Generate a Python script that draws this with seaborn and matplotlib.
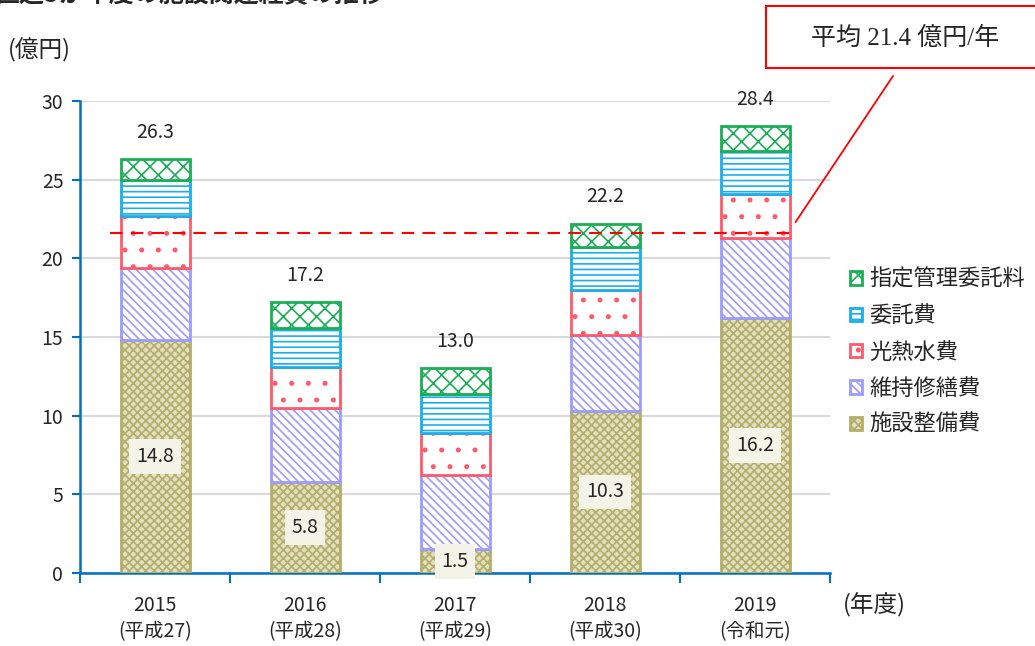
import numpy as np
import seaborn as sns
import matplotlib.pyplot as plt
from matplotlib.patches import Rectangle
from matplotlib.ticker import FixedLocator

# data (億円)
years = ["2015\n(平成27)", "2016\n(平成28)", "2017\n(平成29)", "2018\n(平成30)", "2019\n(令和元)"]
seibi = [14.8, 5.8, 1.5, 10.3, 16.2]      # 施設整備費
shuzen = [4.6, 4.7, 4.7, 4.8, 5.1]        # 維持修繕費
kounetsu = [3.3, 2.6, 2.7, 2.9, 2.8]      # 光熱水費
itaku = [2.3, 2.5, 2.5, 2.7, 2.7]         # 委託費
shitei = [1.3, 1.6, 1.6, 1.5, 1.6]        # 指定管理委託料
totals = [26.3, 17.2, 13.0, 22.2, 28.4]
average = 21.4

series = [
    ("施設整備費", seibi, "#B3AE6B", "xxxx", "#E2DFBE"),
    ("維持修繕費", shuzen, "#9C9CFF", "\\\\\\\\", "white"),
    ("光熱水費", kounetsu, "#FF5A6A", ".", "white"),
    ("委託費", itaku, "#1AAFEA", "---", "white"),
    ("指定管理委託料", shitei, "#1AAE55", "xx", "white"),
]

sns.set_theme(style="white")
plt.rcParams['font.family'] = ['Noto Sans CJK JP', 'DejaVu Sans']
plt.rcParams['hatch.linewidth'] = 1.2

dpi = 100
fig = plt.figure(figsize=(1035 / dpi, 646 / dpi), dpi=dpi)
ax = fig.add_axes([80 / 1035, 1 - 573 / 646, 750 / 1035, 472 / 646])

blue = "#0070C0"
bottom = np.zeros(len(years))
for name, vals, col, hatch, face in series:
    sns.barplot(x=years, y=vals, bottom=bottom, width=0.46, color=face, saturation=1,
                edgecolor=col, hatch=hatch, linewidth=2, ax=ax, label=name, zorder=3)
    bottom = bottom + np.array(vals)

# labels
for i, (s, t) in enumerate(zip(seibi, totals)):
    ax.text(i, t + 1.7, f"{t:.1f}", ha="center", va="center", fontsize=14, zorder=5)
    ax.text(i, s / 2, f"{s:.1f}", ha="center", va="center", fontsize=14, zorder=5,
            bbox=dict(boxstyle="square,pad=0.35", fc="#F3F3E8", ec="none"))

# average line
ax.hlines(average + 0.2, -0.3, 4.28, colors="#FF0000", linestyles=(0, (6, 4)), lw=1.5, zorder=4)
ax.annotate("", xy=(4.27, 22.3), xytext=(893, 646 - 76), textcoords="figure pixels",
            arrowprops=dict(arrowstyle="-", color="#FF0000", lw=1.3, shrinkA=0, shrinkB=0))
fig.patches.append(Rectangle((766 / 1035, 1 - 68 / 646), 280 / 1035, 62 / 646,
                             transform=fig.transFigure, fc="white", ec="#FF0000", lw=1.5))
fig.text(905 / 1035, 1 - 38 / 646, "平均 21.4 億円/年", ha="center", va="center", fontsize=18,
         family=["Liberation Serif", "Noto Sans CJK JP"])

ax.set_xlim(-0.5, 4.5)
ax.set_ylim(0, 30)
ax.set_yticks(range(0, 31, 5))
ax.yaxis.grid(True, color="#D9D9D9", lw=1.5, zorder=0)
ax.set_axisbelow(True)
for sp in ["top", "right"]:
    ax.spines[sp].set_visible(False)
for sp in ["left", "bottom"]:
    ax.spines[sp].set_color(blue)
    ax.spines[sp].set_linewidth(1.8)
ax.tick_params(axis="y", left=True, length=6, width=1.5, color=blue, labelsize=14, pad=6)
ax.tick_params(axis="x", which="major", bottom=False, labelsize=14, pad=10)
ax.xaxis.set_minor_locator(FixedLocator(np.arange(-0.5, 5, 1)))
ax.tick_params(axis="x", which="minor", bottom=True, length=7, width=1.5, color=blue)
for lab in ax.get_xticklabels():
    lab.set_linespacing(1.3)
ax.set_xlabel("")
ax.set_ylabel("")

if ax.legend_:
    ax.legend_.remove()
h, l = ax.get_legend_handles_labels()
fig.legend(h[::-1], l[::-1], loc="center left", bbox_to_anchor=(830 / 1035, 1 - 352 / 646),
           frameon=False, fontsize=16, handlelength=0.55, handleheight=0.55,
           handletextpad=0.3, labelspacing=0.6)

fig.text(8 / 1035, 1 - 50 / 646, "(億円)", ha="left", va="center", fontsize=17)
fig.text(843 / 1035, 1 - 605 / 646, "(年度)", ha="left", va="center", fontsize=17)
fig.text(-0.005, 1.008, "直近5か年度の施設関連経費の推移", ha="left", va="center",
         fontsize=18, fontweight="bold")

fig.savefig("out.png", dpi=dpi)
